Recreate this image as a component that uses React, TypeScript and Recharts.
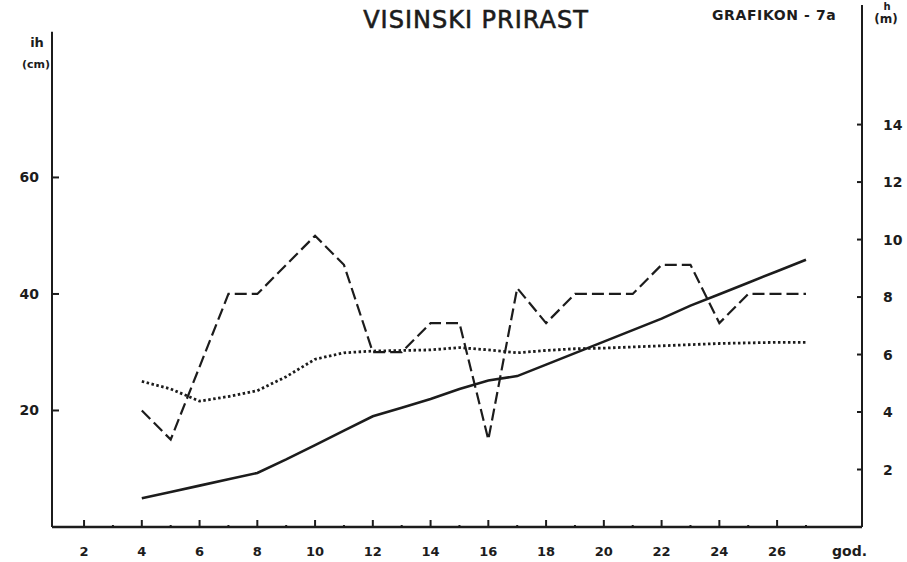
import React from 'react';
import { LineChart, Line, XAxis, YAxis, ReferenceLine } from 'recharts';

// godine (age in years)
const years = [4, 5, 6, 7, 8, 9, 10, 11, 12, 13, 14, 15, 16, 17, 18, 19, 20, 21, 22, 23, 24, 25, 26, 27];
// tekuci visinski prirast, cm (dashed)
const ihAnnual = [20, 15, 27.5, 40, 40, 45, 50, 45, 30, 30, 35, 35, 15, 41, 35, 40, 40, 40, 45, 45, 35, 40, 40, 40];
// prosjecni visinski prirast, cm (dotted)
const ihAverage = [25, 23.7, 21.6, 22.4, 23.4, 25.8, 28.8, 29.9, 30.2, 30.3, 30.4, 30.8, 30.4, 29.9, 30.3, 30.6, 30.7, 30.9, 31.1, 31.3, 31.5, 31.6, 31.7, 31.7];
// visina, m (solid)
const heightM = [1.0, 1.22, 1.44, 1.66, 1.88, 2.35, 2.85, 3.35, 3.85, 4.15, 4.45, 4.8, 5.1, 5.25, 5.65, 6.05, 6.45, 6.85, 7.25, 7.7, 8.1, 8.5, 8.9, 9.3];

const xTicks = [2, 3, 4, 5, 6, 7, 8, 9, 10, 11, 12, 13, 14, 15, 16, 17, 18, 19, 20, 21, 22, 23, 24, 25, 26, 27];
const leftTicks = [20, 40, 60];
const rightTicks = [2, 4, 6, 8, 10, 12, 14];

const xDomain = [0.89, 28.94];
const leftDomain = [0, 89.6];
const rightDomain = [0, 18.16];
const leftAxisTop = 85;

const data = years.map((year, i) => ({ year, ih: ihAnnual[i], avg: ihAverage[i], h: heightM[i] }));

const INK = '#1c1c1c';
const FONT = '"DejaVu Sans", sans-serif';

const XTick = (props: any) => {
  const { x, y, payload } = props;
  const major = payload.value % 2 === 0;
  return (
    <g>
      <line x1={x} x2={x} y1={y} y2={y - (major ? 7 : 2)} stroke={INK} strokeWidth={2} />
      {major && (
        <text x={x} y={y + 29} textAnchor="middle" fontFamily={FONT} fontWeight="bold" fontSize={13} fill={INK}>
          {payload.value}
        </text>
      )}
    </g>
  );
};

const LeftTick = (props: any) => {
  const { x, y, payload } = props;
  return (
    <g>
      <line x1={x} x2={x + 7} y1={y} y2={y} stroke={INK} strokeWidth={2} />
      <text x={x - 13} y={y + 5} textAnchor="end" fontFamily={FONT} fontWeight="bold" fontSize={14} fill={INK}>
        {payload.value}
      </text>
    </g>
  );
};

const RightTick = (props: any) => {
  const { x, y, payload } = props;
  return (
    <g>
      <line x1={x - 5} x2={x} y1={y} y2={y} stroke={INK} strokeWidth={2} />
      <text x={x + 21} y={y + 5} textAnchor="start" fontFamily={FONT} fontWeight="bold" fontSize={14} fill={INK}>
        {payload.value}
      </text>
    </g>
  );
};

export default function App() {
  return (
    <div style={{ position: 'absolute', left: 0, top: 0, width: 907, height: 562, background: '#fff' }}>
      <LineChart width={907} height={562} data={data} margin={{ top: 5, right: 0, bottom: 0, left: 0 }}>
        <XAxis
          dataKey="year"
          type="number"
          domain={xDomain}
          allowDataOverflow
          ticks={xTicks}
          interval={0}
          height={35}
          tickSize={0}
          tickMargin={0}
          tickLine={false}
          tick={<XTick />}
          axisLine={{ stroke: INK, strokeWidth: 2.5 }}
        />
        <YAxis
          yAxisId="left"
          orientation="left"
          width={52}
          domain={leftDomain}
          allowDataOverflow
          ticks={leftTicks}
          interval={0}
          tickSize={0}
          tickMargin={0}
          tickLine={false}
          tick={<LeftTick />}
          axisLine={false}
        />
        <YAxis
          yAxisId="right"
          orientation="right"
          width={45}
          domain={rightDomain}
          allowDataOverflow
          ticks={rightTicks}
          interval={0}
          tickSize={0}
          tickMargin={0}
          tickLine={false}
          tick={<RightTick />}
          axisLine={{ stroke: INK, strokeWidth: 2 }}
        />
        <ReferenceLine
          yAxisId="left"
          segment={[{ x: xDomain[0], y: 0 }, { x: xDomain[0], y: leftAxisTop }]}
          stroke={INK}
          strokeWidth={2}
        />
        <Line yAxisId="left" type="linear" dataKey="ih" stroke={INK} strokeWidth={2.2} strokeDasharray="12 5" dot={false} isAnimationActive={false} />
        <Line yAxisId="left" type="linear" dataKey="avg" stroke={INK} strokeWidth={2.8} strokeDasharray="2.5 2.5" dot={false} isAnimationActive={false} />
        <Line yAxisId="right" type="linear" dataKey="h" stroke={INK} strokeWidth={2.6} dot={false} isAnimationActive={false} />
      </LineChart>
      <svg width={907} height={562} style={{ position: 'absolute', left: 0, top: 0, pointerEvents: 'none' }}>
        <text x={476} y={28} textAnchor="middle" fontFamily={FONT} fontSize={24} letterSpacing={1} fill={INK} stroke={INK} strokeWidth={0.6}>VISINSKI PRIRAST</text>
        <text x={712} y={20} fontFamily={FONT} fontWeight="bold" fontSize={14} letterSpacing={0.6} fill={INK}>GRAFIKON - 7a</text>
        <text x={37} y={47} textAnchor="middle" fontFamily={FONT} fontWeight="bold" fontSize={13} fill={INK}>ih</text>
        <text x={36} y={68} textAnchor="middle" fontFamily={FONT} fontWeight="bold" fontSize={11} fill={INK}>(cm)</text>
        <text x={887} y={10} textAnchor="middle" fontFamily={FONT} fontWeight="bold" fontSize={10} fill={INK}>h</text>
        <text x={886} y={23} textAnchor="middle" fontFamily={FONT} fontWeight="bold" fontSize={12} fill={INK}>(m)</text>
        <text x={832} y={556} fontFamily={FONT} fontWeight="bold" fontSize={14} fill={INK}>god.</text>
      </svg>
    </div>
  );
}
